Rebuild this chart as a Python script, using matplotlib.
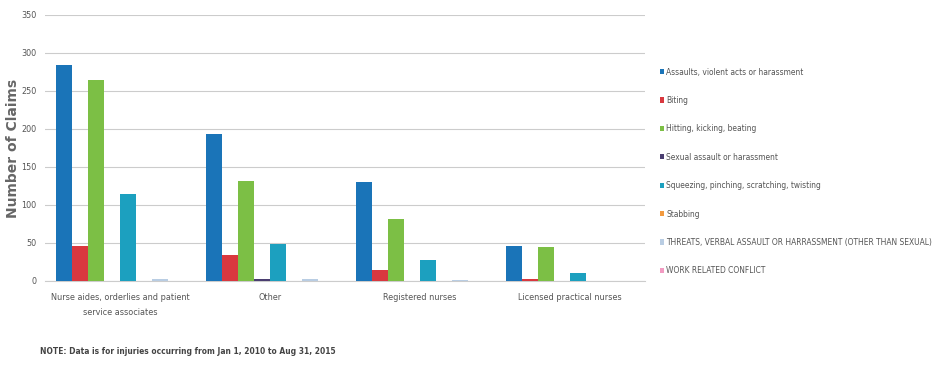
import matplotlib
matplotlib.use("Agg")
import matplotlib.pyplot as plt
import numpy as np

categories = ["Nurse aides, orderlies and patient\nservice associates", "Other",
              "Registered nurses", "Licensed practical nurses"]
series_names = ["Assaults, violent acts or harassment", "Biting", "Hitting, kicking, beating",
                "Sexual assault or harassment", "Squeezing, pinching, scratching, twisting",
                "Stabbing", "THREATS, VERBAL ASSAULT OR HARRASSMENT (OTHER THAN SEXUAL)",
                "WORK RELATED CONFLICT"]
assaults = [284, 193, 130, 46]
biting = [46, 34, 14, 3]
hitting = [265, 132, 81, 45]
sexual = [0, 3, 0, 0]
squeezing = [115, 49, 28, 10]
stabbing = [0, 0, 0, 0]
threats = [3, 2, 1, 0]
work_conflict = [0, 0, 0, 0]
series_values = [assaults, biting, hitting, sexual, squeezing, stabbing, threats, work_conflict]
colors = ["#1a74b8", "#d9383f", "#7cbf45", "#4a3e70", "#1ca0bf", "#f29a3f", "#b9cde3", "#f29bc2"]

plt.rcParams['font.family'] = ["DejaVu Sans"]
plt.rcParams['font.stretch'] = 'condensed'

fig = plt.figure(figsize=(9.43, 3.7), dpi=100)
ax = fig.add_axes([45/943, 1-281/370, 600/943, 266/370])

x = np.arange(len(categories))
w = 16/150
n = len(series_values)
for i, (vals, c, name) in enumerate(zip(series_values, colors, series_names)):
    off = (i - (n-1)/2) * w
    ax.bar(x + off, vals, width=w, color=c, label=name, zorder=3)

ax.set_xlim(-0.5, 3.5)
ax.set_ylim(0, 350)
ax.set_yticks(range(0, 351, 50))
ax.grid(axis='y', color='#cccccc', linewidth=0.8, zorder=0)
for s in ['top', 'right', 'left']:
    ax.spines[s].set_visible(False)
ax.spines['bottom'].set_color('#cccccc')
ax.tick_params(axis='both', length=0, labelsize=6.5, colors='#555555')
ax.set_xticks(x)
ax.set_xticklabels(categories, fontsize=6.5, color='#555555', linespacing=1.8)
ax.tick_params(axis='x', pad=9)
ax.tick_params(axis='y', pad=6)
ax.set_ylabel("Number of Claims", fontsize=10, fontweight='bold', color='#666666',
              fontstretch='normal', labelpad=1)

leg = fig.legend(loc='upper left', bbox_to_anchor=(652/943, 1-60/370), frameon=False,
                 fontsize=6, handlelength=0.5, handleheight=0.6, handletextpad=0.3,
                 labelspacing=2.33, labelcolor='#555555')

fig.text(40/943, 1-352/370, "NOTE: Data is for injuries occurring from Jan 1, 2010 to Aug 31, 2015",
         fontsize=6, fontweight='bold', color='#444444', va='center')

fig.savefig("out.png", dpi=100)
